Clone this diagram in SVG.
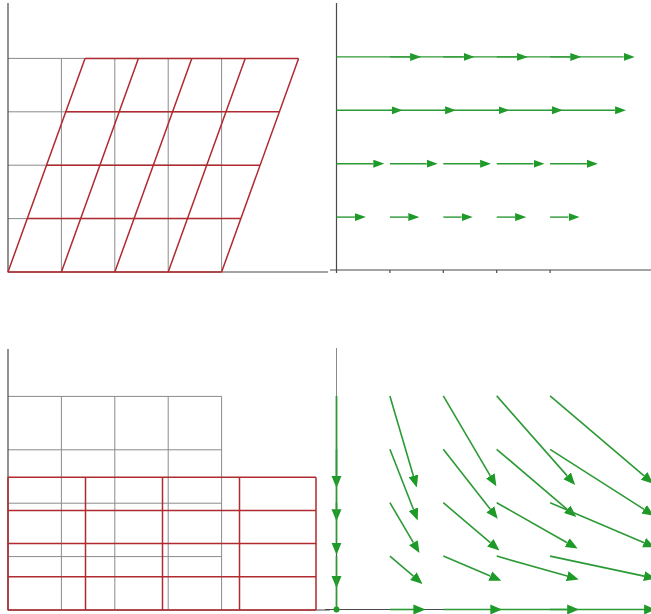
<svg xmlns="http://www.w3.org/2000/svg" width="651" height="614" viewBox="0 0 651 614">
<style>
.axis{stroke:#4a4a4a;stroke-width:1.2;fill:none}
.grid{stroke:#8a8a8a;stroke-width:1;fill:none}
.red{stroke:#b02a30;stroke-width:1.5;fill:none}
.v1{stroke:#2c9a35;stroke-width:1.4;fill:none;marker-end:url(#h1)}
.v2{stroke:#2c9a35;stroke-width:1.6;fill:none;marker-end:url(#h2)}
</style>
<defs>
<marker id="h1" viewBox="0 -5 11 10" markerWidth="11" markerHeight="10" refX="0" refY="0" orient="auto" markerUnits="userSpaceOnUse"><path d="M0,-4 L11,0 L0,4 Z" fill="#1d9a27"/></marker>
<marker id="h2" viewBox="0 -6 12 12" markerWidth="12" markerHeight="12" refX="0" refY="0" orient="auto" markerUnits="userSpaceOnUse"><path d="M0,-5 L12,0 L0,5 Z" fill="#1d9a27"/></marker>
</defs>
<rect width="651" height="614" fill="#ffffff"/>

<g id="panel-shear">
<g class="grid">
<path d="M8,58.4H221.6M8,111.8H221.6M8,165.2H221.6M8,218.6H221.6"/>
<path d="M61.4,58.4V272M114.8,58.4V272M168.2,58.4V272M221.6,58.4V272"/>
</g>
<path class="axis" d="M8,3V272H328"/>
<g class="red">
<path d="M8,272H221.6M27.25,218.6H240.85M46.5,165.2H260.1M65.75,111.8H279.35M85,58.4H298.6"/>
<path d="M8,272L85,58.4M61.4,272L138.4,58.4M114.8,272L191.8,58.4M168.2,272L245.2,58.4M221.6,272L298.6,58.4"/>
</g>
</g>

<g id="panel-shear-field">
<path class="axis" d="M336.5,3V270M330,270H651"/>
<path class="axis" d="M336.5,270v3M389.9,270v3M443.3,270v3M496.7,270v3M550.1,270v3"/>
<g id="shear-arrows">
<path class="v1" d="M336.5,217.1h18.4"/><path class="v1" d="M389.9,217.1h18.4"/><path class="v1" d="M443.3,217.1h18.4"/><path class="v1" d="M496.7,217.1h18.4"/><path class="v1" d="M550.1,217.1h18.4"/>
<path class="v1" d="M336.5,163.7h36.8"/><path class="v1" d="M389.9,163.7h36.8"/><path class="v1" d="M443.3,163.7h36.8"/><path class="v1" d="M496.7,163.7h36.8"/><path class="v1" d="M550.1,163.7h36.8"/>
<path class="v1" d="M336.5,110.3h55.2"/><path class="v1" d="M389.9,110.3h55.2"/><path class="v1" d="M443.3,110.3h55.2"/><path class="v1" d="M496.7,110.3h55.2"/><path class="v1" d="M550.1,110.3h65"/>
<path class="v1" d="M336.5,56.9h73.6"/><path class="v1" d="M389.9,56.9h73.6"/><path class="v1" d="M443.3,56.9h73.6"/><path class="v1" d="M496.7,56.9h73.6"/><path class="v1" d="M550.1,56.9h73.6"/>
</g>
</g>

<g id="panel-scale">
<g class="grid">
<path d="M8,396.4H221.6M8,449.8H221.6M8,503.2H221.6M8,556.6H221.6"/>
<path d="M61.4,396.4V610M114.8,396.4V610M168.2,396.4V610M221.6,396.4V610"/>
</g>
<path class="axis" d="M8,349V610H330"/>
<g class="red">
<path d="M8,477.2H316M8,510.4H316M8,543.6H316M8,576.8H316M8,610H316"/>
<path d="M8,477.2V610M85.5,477.2V610M162.5,477.2V610M239.5,477.2V610M316,477.2V610"/>
</g>
</g>

<g id="panel-scale-field">
<path class="grid" d="M336.5,348V396"/>
<path class="axis" d="M336.5,396V609.5M325,609.5H651"/>
<g id="scale-arrows">
<path class="v2" d="M336.5,395.9V475.9"/><path class="v2" d="M336.5,449.3V509.3"/><path class="v2" d="M336.5,502.7V542.7"/><path class="v2" d="M336.5,556.1V576.1"/>
<path class="v2" d="M336.5,576.1V609.5" style="marker-end:none"/>
<path class="v2" d="M389.9,609.5H413.4"/><path class="v2" d="M443.3,609.5H490.3"/><path class="v2" d="M496.7,609.5H567.2"/><path class="v2" d="M550.1,609.5H644.1"/>
<path class="v2" d="M389.9,395.9L413.4,475.9"/><path class="v2" d="M389.9,449.3L413.4,509.3"/><path class="v2" d="M389.9,502.7L413.4,542.7"/><path class="v2" d="M389.9,556.1L413.4,576.1"/>
<path class="v2" d="M443.3,395.9L490.3,475.9"/><path class="v2" d="M443.3,449.3L490.3,509.3"/><path class="v2" d="M443.3,502.7L490.3,542.7"/><path class="v2" d="M443.3,556.1L490.3,576.1"/>
<path class="v2" d="M496.7,395.9L567.2,475.9"/><path class="v2" d="M496.7,449.3L567.2,509.3"/><path class="v2" d="M496.7,502.7L567.2,542.7"/><path class="v2" d="M496.7,556.1L567.2,576.1"/>
<path class="v2" d="M550.1,395.9L644.1,475.9"/><path class="v2" d="M550.1,449.3L644.1,509.3"/><path class="v2" d="M550.1,502.7L644.1,542.7"/><path class="v2" d="M550.1,556.1L644.1,576.1"/>
</g>
<circle cx="336.5" cy="609.5" r="3" fill="#1d9a27"/>
</g>
</svg>
